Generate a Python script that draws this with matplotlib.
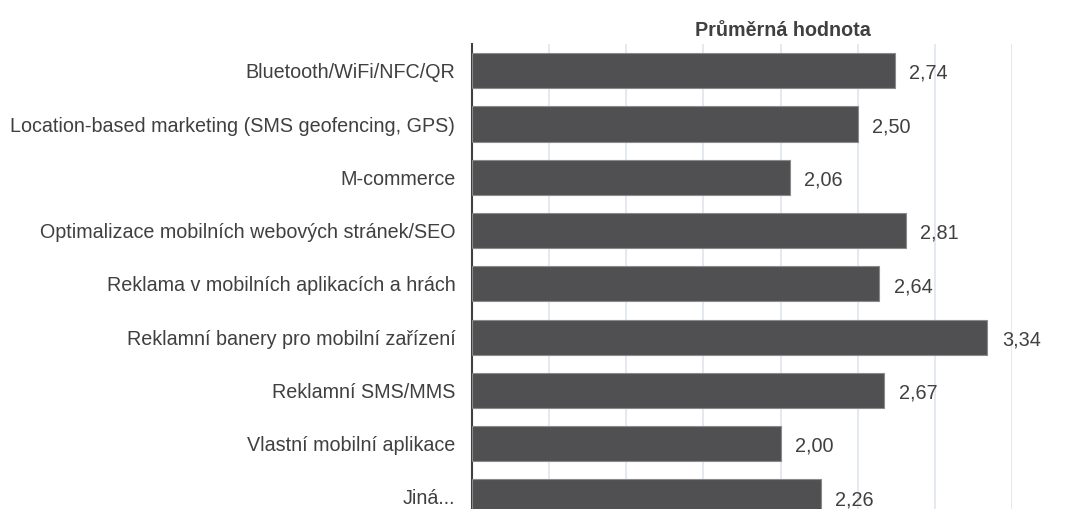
import matplotlib.pyplot as plt
from matplotlib import font_manager

categories = [
    "Bluetooth/WiFi/NFC/QR",
    "Location-based marketing (SMS geofencing, GPS)",
    "M-commerce",
    "Optimalizace mobilních webových stránek/SEO",
    "Reklama v mobilních aplikacích a hrách",
    "Reklamní banery pro mobilní zařízení",
    "Reklamní SMS/MMS",
    "Vlastní mobilní aplikace",
    "Jiná...",
]
values = [2.74, 2.50, 2.06, 2.81, 2.64, 3.34, 2.67, 2.00, 2.26]
grid_ticks = [0.5, 1.0, 1.5, 2.0, 2.5, 3.0, 3.5]

names = {f.name for f in font_manager.fontManager.ttflist}
family = "Liberation Sans Narrow" if "Liberation Sans Narrow" in names else "Liberation Sans"
plt.rcParams["font.family"] = [family, "DejaVu Sans"]

text_color = "#404040"
bar_color = "#505052"

fig = plt.figure(figsize=(10.74, 5.09), dpi=100)
ax = fig.add_axes([472 / 1074, -0.0287, (1012 - 472) / 1074, 0.942])

y = list(range(len(categories)))
ax.barh(y, values, height=0.66, color=bar_color, edgecolor="#8a8a8a", linewidth=0.8, zorder=3)

for yi, v in zip(y, values):
    ax.text(v + 0.095, yi + 0.05, f"{v:.2f}".replace(".", ","), va="center", ha="left",
            fontsize=14.3, color=text_color, clip_on=False)

ax.set_xlim(0, 3.5)
ax.set_ylim(len(categories) - 0.5, -0.5)
ax.set_yticks(y)
ax.set_yticklabels(categories, fontsize=14.2, color=text_color)
ax.tick_params(axis="y", length=0, pad=12)
ax.set_xticks(grid_ticks)
ax.tick_params(axis="x", length=0, labelbottom=False)
ax.grid(axis="x", color="#dfe5ee", linewidth=1.2, zorder=0)

for s in ["top", "right", "bottom"]:
    ax.spines[s].set_visible(False)
ax.spines["left"].set_color("#404040")
ax.spines["left"].set_linewidth(1.5)

fig.text(783 / 1074, 1 - 31 / 509, "Průměrná hodnota", ha="center", va="center",
         fontsize=14.2, fontweight="bold", color=text_color)

fig.savefig("out.png", dpi=100)
